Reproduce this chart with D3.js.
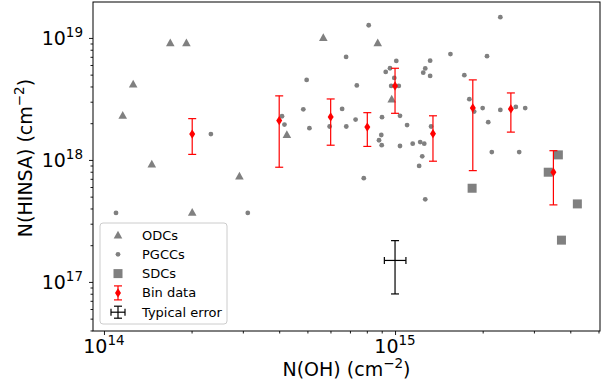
<!DOCTYPE html>
<html>
<head>
<meta charset="utf-8">
<script src="https://cdn.jsdelivr.net/npm/d3@7"></script>
<style>
  body { margin: 0; background: #fff; }
  svg { font-family: "DejaVu Sans", sans-serif; }
</style>
</head>
<body>
<div id="chart"></div>
<script>
// ODCs (triangles)
var odcX = [1.69e14, 1.92e14, 1.26e14, 1.16e14, 1.46e14, 2.92e14, 2.01e14, 4.25e14, 5.67e14, 8.72e14, 9.74e14];
var odcY = [9.15e18, 9.15e18, 4.20e18, 2.33e18, 9.27e17, 7.40e17, 3.73e17, 1.62e18, 1.01e19, 9.15e18, 3.16e18];

// PGCCs (small dots)
var pgccX = [2.33e14, 1.10e14, 3.12e14, 4.09e14, 4.17e14, 4.97e14, 4.84e14, 5.08e14, 5.96e14, 6.58e14,
             6.80e14, 6.79e14, 8.12e14, 2.30e15, 1.01e15, 9.29e14, 9.61e14, 9.94e14, 9.70e14, 1.03e15,
             1.32e15, 1.27e15, 1.25e15, 1.32e15, 1.55e15, 2.07e15, 1.73e15, 7.39e14, 7.32e14, 9.02e14,
             1.04e15, 1.10e15, 8.97e14, 8.81e14, 9.00e14, 1.04e15, 1.15e15, 1.22e15, 1.26e15, 1.24e15,
             1.21e15, 1.33e15, 7.81e14, 1.27e15, 1.80e15, 1.87e15, 2.00e15, 2.09e15, 2.30e15, 2.60e15,
             2.80e15, 2.15e15, 2.67e15];
var pgccY = [1.63e18, 3.68e17, 3.68e17, 2.28e18, 1.95e18, 4.53e18, 2.60e18, 1.82e18, 1.88e18, 2.62e18,
             1.88e18, 6.99e18, 1.27e19, 1.48e19, 6.48e18, 5.26e18, 5.64e18, 4.70e18, 4.04e18, 4.04e18,
             6.51e18, 5.62e18, 5.19e18, 4.88e18, 7.37e18, 7.08e18, 4.95e18, 4.08e18, 2.14e18, 2.24e18,
             2.30e18, 1.93e18, 1.60e18, 1.45e18, 1.32e18, 1.30e18, 1.36e18, 1.40e18, 1.36e18, 1.07e18,
             8.93e17, 1.88e18, 7.09e17, 4.75e17, 3.15e18, 2.49e18, 2.66e18, 2.04e18, 2.57e18, 2.72e18,
             2.66e18, 1.16e18, 1.16e18];

// SDCs (squares)
var sdcX = [3.64e15, 3.36e15, 1.84e15, 4.23e15, 3.73e15];
var sdcY = [1.10e18, 7.93e17, 5.86e17, 4.36e17, 2.20e17];

// Bin data with error bars
var binX  = [2.01e14, 4.00e14, 6.01e14, 8.03e14, 1.00e15, 1.35e15, 1.85e15, 2.50e15, 3.50e15];
var binY  = [1.63e18, 2.10e18, 2.25e18, 1.86e18, 4.04e18, 1.64e18, 2.67e18, 2.62e18, 7.93e17];
var binHi = [2.18e18, 3.35e18, 3.16e18, 2.44e18, 5.64e18, 2.30e18, 4.53e18, 3.54e18, 1.19e18];
var binLo = [1.11e18, 8.71e17, 1.32e18, 1.29e18, 2.41e18, 9.76e17, 8.17e17, 1.69e18, 4.28e17];

// Typical error cross
var typX = [9.19e14, 1.00e15, 1.09e15];
var typY = [7.97e16, 1.50e17, 2.18e17];

var xMajor = [1e14, 1e15];
var yMajor = [1e17, 1e18, 1e19];
var legendLabels = ["ODCs", "PGCCs", "SDCs", "Bin data", "Typical error"];

var W = 608, H = 387;
var box = {left: 93, right: 600, top: 2, bottom: 331};
var grey = "#808080";

var x = d3.scaleLog().domain([9.17e13, 5.06e15]).range([box.left, box.right]);
var y = d3.scaleLog().domain([3.96e16, 1.97e19]).range([box.bottom, box.top]);

var svg = d3.select("#chart").append("svg").attr("width", W).attr("height", H);

// minor ticks
var xMinor = [], yMinor = [];
[1e13, 1e14, 1e15].forEach(function(b) { for (var k = 2; k < 10; k++) xMinor.push(k * b); });
[1e16, 1e17, 1e18, 1e19].forEach(function(b) { for (var k = 2; k < 10; k++) yMinor.push(k * b); });
xMinor = xMinor.filter(function(v) { return v > x.domain()[0] && v < x.domain()[1]; });
yMinor = yMinor.filter(function(v) { return v > y.domain()[0] && v < y.domain()[1]; });

var axX = function(vals, len) { return d3.axisBottom(x).tickValues(vals).tickSizeInner(len).tickSizeOuter(0).tickFormat(""); };
var axY = function(vals, len) { return d3.axisLeft(y).tickValues(vals).tickSizeInner(len).tickSizeOuter(0).tickFormat(""); };

svg.append("g").attr("transform", "translate(0," + box.bottom + ")").call(axX(xMinor, 2.5)).attr("class", "axis");
svg.append("g").attr("transform", "translate(0," + box.bottom + ")").call(axX(xMajor, 4)).attr("class", "axis");
svg.append("g").attr("transform", "translate(" + box.left + ",0)").call(axY(yMinor, 2.5)).attr("class", "axis");
svg.append("g").attr("transform", "translate(" + box.left + ",0)").call(axY(yMajor, 4)).attr("class", "axis");
svg.selectAll(".axis .domain").remove();
svg.selectAll(".axis line").attr("stroke", "#000").attr("stroke-width", 0.9);

// tick labels with superscripts
var xl = svg.append("g").selectAll("text").data(xMajor).enter().append("text")
    .attr("x", function(d) { return x(d); }).attr("y", 353)
    .attr("text-anchor", "middle").attr("font-size", 19);
xl.append("tspan").text("10");
xl.append("tspan").attr("dy", -8).attr("font-size", 13.5).text(function(d) { return Math.round(Math.log10(d)); });

var yl = svg.append("g").selectAll("text").data(yMajor).enter().append("text")
    .attr("x", 83).attr("y", function(d) { return y(d) + 7; })
    .attr("text-anchor", "end").attr("font-size", 19);
yl.append("tspan").text("10");
yl.append("tspan").attr("dy", -8).attr("font-size", 13.5).text(function(d) { return Math.round(Math.log10(d)); });

// axis labels
var xt = svg.append("text").attr("x", (box.left + box.right) / 2).attr("y", 376)
    .attr("text-anchor", "middle").attr("font-size", 19);
xt.append("tspan").text("N(OH) (cm");
xt.append("tspan").attr("dy", -8).attr("font-size", 13.5).text("\u22122");
xt.append("tspan").attr("dy", 8).text(")");

var yt = svg.append("text").attr("transform", "translate(32,158) rotate(-90)")
    .attr("text-anchor", "middle").attr("font-size", 19);
yt.append("tspan").text("N(HINSA) (cm");
yt.append("tspan").attr("dy", -8).attr("font-size", 13.5).text("\u22122");
yt.append("tspan").attr("dy", 8).text(")");

// markers
var plot = svg.append("g");

plot.selectAll(".odc").data(odcX).enter().append("path")
    .attr("d", "M0,-4.2L4.3,3.6L-4.3,3.6Z")
    .attr("transform", function(d, i) { return "translate(" + x(d) + "," + y(odcY[i]) + ")"; })
    .attr("fill", grey);

plot.selectAll(".pgcc").data(pgccX).enter().append("circle")
    .attr("cx", function(d) { return x(d); }).attr("cy", function(d, i) { return y(pgccY[i]); })
    .attr("r", 2.4).attr("fill", grey);

plot.selectAll(".sdc").data(sdcX).enter().append("rect")
    .attr("x", function(d) { return x(d) - 4.5; }).attr("y", function(d, i) { return y(sdcY[i]) - 4.5; })
    .attr("width", 9).attr("height", 9).attr("fill", grey);

// bin error bars
var bins = plot.selectAll(".bin").data(binX).enter().append("g");
bins.append("line")
    .attr("x1", function(d) { return x(d); }).attr("x2", function(d) { return x(d); })
    .attr("y1", function(d, i) { return y(binLo[i]); }).attr("y2", function(d, i) { return y(binHi[i]); })
    .attr("stroke", "red").attr("stroke-width", 1.2);
[binLo, binHi].forEach(function(arr) {
  bins.append("line")
    .attr("x1", function(d) { return x(d) - 4; }).attr("x2", function(d) { return x(d) + 4; })
    .attr("y1", function(d, i) { return y(arr[i]); }).attr("y2", function(d, i) { return y(arr[i]); })
    .attr("stroke", "red").attr("stroke-width", 1.2);
});
var diamond = "M0,-4.6L3,0L0,4.6L-3,0Z";
bins.append("path").attr("d", diamond)
    .attr("transform", function(d, i) { return "translate(" + x(d) + "," + y(binY[i]) + ")"; })
    .attr("fill", "red");

// typical error cross
var te = plot.append("g").attr("stroke", "#000").attr("stroke-width", 1.2);
te.append("line").attr("x1", x(typX[1])).attr("x2", x(typX[1])).attr("y1", y(typY[0])).attr("y2", y(typY[2]));
te.append("line").attr("x1", x(typX[0])).attr("x2", x(typX[2])).attr("y1", y(typY[1])).attr("y2", y(typY[1]));
typY.filter(function(v, i) { return i != 1; }).forEach(function(v) {
  te.append("line").attr("x1", x(typX[1]) - 4).attr("x2", x(typX[1]) + 4).attr("y1", y(v)).attr("y2", y(v));
});
typX.filter(function(v, i) { return i != 1; }).forEach(function(v) {
  te.append("line").attr("x1", x(v)).attr("x2", x(v)).attr("y1", y(typY[1]) - 3.5).attr("y2", y(typY[1]) + 3.5);
});

// frame
svg.append("rect").attr("x", box.left).attr("y", box.top)
    .attr("width", box.right - box.left).attr("height", box.bottom - box.top)
    .attr("fill", "none").attr("stroke", "#000").attr("stroke-width", 1);

// legend
var lg = svg.append("g").attr("transform", "translate(100,223)");
lg.append("rect").attr("width", 127).attr("height", 101).attr("rx", 3)
    .attr("fill", "#fff").attr("fill-opacity", 0.8).attr("stroke", "#cccccc").attr("stroke-width", 1);
var rowY = function(i) { return 12 + i * 19.3; };
var mx = 18;
lg.append("path").attr("d", "M0,-4.2L4.3,3.6L-4.3,3.6Z").attr("transform", "translate(" + mx + "," + rowY(0) + ")").attr("fill", grey);
lg.append("circle").attr("cx", mx).attr("cy", rowY(1)).attr("r", 2.4).attr("fill", grey);
lg.append("rect").attr("x", mx - 4.5).attr("y", rowY(2) - 4.5).attr("width", 9).attr("height", 9).attr("fill", grey);
var lb = lg.append("g").attr("stroke", "red").attr("stroke-width", 1.2);
lb.append("line").attr("x1", mx).attr("x2", mx).attr("y1", rowY(3) - 7).attr("y2", rowY(3) + 7);
lb.append("line").attr("x1", mx - 4).attr("x2", mx + 4).attr("y1", rowY(3) - 7).attr("y2", rowY(3) - 7);
lb.append("line").attr("x1", mx - 4).attr("x2", mx + 4).attr("y1", rowY(3) + 7).attr("y2", rowY(3) + 7);
lg.append("path").attr("d", diamond).attr("transform", "translate(" + mx + "," + rowY(3) + ")").attr("fill", "red");
var lt = lg.append("g").attr("stroke", "#000").attr("stroke-width", 1.2);
lt.append("line").attr("x1", mx).attr("x2", mx).attr("y1", rowY(4) - 6).attr("y2", rowY(4) + 6);
lt.append("line").attr("x1", mx - 7).attr("x2", mx + 7).attr("y1", rowY(4)).attr("y2", rowY(4));
lt.append("line").attr("x1", mx - 4).attr("x2", mx + 4).attr("y1", rowY(4) - 6).attr("y2", rowY(4) - 6);
lt.append("line").attr("x1", mx - 4).attr("x2", mx + 4).attr("y1", rowY(4) + 6).attr("y2", rowY(4) + 6);
lt.append("line").attr("x1", mx - 7).attr("x2", mx - 7).attr("y1", rowY(4) - 3.5).attr("y2", rowY(4) + 3.5);
lt.append("line").attr("x1", mx + 7).attr("x2", mx + 7).attr("y1", rowY(4) - 3.5).attr("y2", rowY(4) + 3.5);

lg.selectAll(".lab").data(legendLabels).enter().append("text")
    .attr("x", 42).attr("y", function(d, i) { return rowY(i) + 4.5; })
    .attr("font-size", 13).text(function(d) { return d; });
</script>
</body>
</html>
